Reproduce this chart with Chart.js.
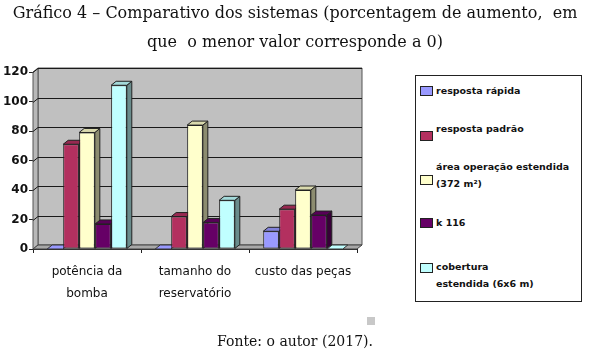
<!DOCTYPE html>
<html><head><meta charset="utf-8">
<script src="https://cdn.jsdelivr.net/npm/chart.js@4.4.0/dist/chart.umd.min.js"></script>
<style>
html,body{margin:0;padding:0;background:#fff;}
#wrap{position:relative;width:590px;height:353px;overflow:hidden;background:#fff;}
#c{position:absolute;left:0;top:0;}
.title{position:absolute;left:0;width:590px;text-align:center;font-family:"DejaVu Serif",serif;font-size:16px;color:#111;white-space:pre;line-height:20px;}
.foot{position:absolute;left:0;width:590px;text-align:center;font-family:"DejaVu Serif",serif;font-size:14px;color:#111;line-height:18px;}
#legend{position:absolute;left:415px;top:75px;width:165px;height:225px;border:1.5px solid #222;background:#fff;}
.li{position:absolute;left:20px;font-family:"DejaVu Sans",sans-serif;font-weight:bold;font-size:9.5px;color:#111;line-height:13px;white-space:pre;}
.sw{position:absolute;left:4px;width:11px;height:8px;border:1px solid #222;}
.sq{position:absolute;left:367px;top:317px;width:8px;height:8px;background:#c8c8c8;}
</style></head>
<body><div id="wrap"><canvas id="c" width="590" height="353"></canvas>
<div class="title" style="top:3px">Gráfico 4 – Comparativo dos sistemas (porcentagem de aumento,  em</div>
<div class="title" style="top:32px">que  o menor valor corresponde a 0)</div>
<div id="legend"></div>
<div class="sq"></div>
<div class="foot" style="top:332px">Fonte: o autor (2017).</div>
</div>
<script>
// ---- data ----
const categories = [['potência da','bomba'], ['tamanho do','reservatório'], ['custo das peças']];
const seriesNames = ['resposta rápida', 'resposta padrão', 'área operação estendida (372 m²)', 'k 116', 'cobertura estendida (6x6 m)'];
const legendLines = [['resposta rápida'], ['resposta padrão'], ['área operação estendida', '(372 m²)'], ['k 116'], ['cobertura', 'estendida (6x6 m)']];
const respostaRapida = [0, 0, 12];
const respostaPadrao = [71, 22, 27];
const areaEstendida = [79, 84, 40];
const k116 = [17, 18, 23];
const coberturaEstendida = [111, 33, 0];
const yTicks = [0, 20, 40, 60, 80, 100, 120];

const colors = ['#9999FF', '#B3305F', '#FFFFCC', '#660066', '#C0FFFF'];
const seriesValues = [respostaRapida, respostaPadrao, areaEstendida, k116, coberturaEstendida];

// ---- legend (HTML) ----
const legendPos = [ {text: 8, sw: 10}, {text: 46, sw: 55}, {text: 84, sw: 99}, {text: 140, sw: 142}, {text: 184, sw: 187} ];
const leg = document.getElementById('legend');
legendLines.forEach((lines, i) => {
  const sw = document.createElement('div');
  sw.className = 'sw'; sw.style.top = legendPos[i].sw + 'px'; sw.style.background = colors[i];
  leg.appendChild(sw);
  lines.forEach((t, k) => {
    const d = document.createElement('div');
    d.className = 'li'; d.textContent = t;
    d.style.top = (legendPos[i].text + k * 17) + 'px';
    leg.appendChild(d);
  });
});

function shade(hex, f) {
  const n = parseInt(hex.slice(1), 16);
  const r = Math.round(((n >> 16) & 255) * f), g = Math.round(((n >> 8) & 255) * f), b = Math.round((n & 255) * f);
  return `rgb(${r},${g},${b})`;
}
const DX = 5, DY = 4;
function poly(ctx, pts, fill, stroke) {
  ctx.beginPath();
  ctx.moveTo(pts[0][0], pts[0][1]);
  for (let i = 1; i < pts.length; i++) ctx.lineTo(pts[i][0], pts[i][1]);
  ctx.closePath();
  if (fill) { ctx.fillStyle = fill; ctx.fill(); }
  if (stroke) { ctx.strokeStyle = stroke; ctx.lineWidth = 1; ctx.stroke(); }
}
const threeD = {
  id: 'threeD',
  beforeDatasetsDraw(chart) {
    const ctx = chart.ctx;
    const {left, right, top, bottom} = chart.chartArea;
    const y = chart.scales.y;
    ctx.save();
    poly(ctx, [[left + DX, top - DY], [right + DX, top - DY], [right + DX, bottom - DY], [left + DX, bottom - DY]], '#C0C0C0', '#555');
    poly(ctx, [[left, top], [left + DX, top - DY], [left + DX, bottom - DY], [left, bottom]], '#B8B8B8', '#555');
    ctx.strokeStyle = '#1a1a1a'; ctx.lineWidth = 1;
    yTicks.forEach(v => {
      if (v === 0) return;
      const py = Math.round(y.getPixelForValue(v)) + 0.5;
      ctx.beginPath();
      ctx.moveTo(left, py); ctx.lineTo(left + DX, py - DY); ctx.lineTo(right + DX, py - DY);
      ctx.stroke();
    });
    poly(ctx, [[left, bottom], [right, bottom], [right + DX, bottom - DY], [left + DX, bottom - DY]], '#A8A8A8', '#444');
    const n = chart.data.labels.length;
    for (let j = 0; j < n; j++) {
      chart.data.datasets.forEach((ds, i) => {
        const bar = chart.getDatasetMeta(i).data[j];
        const p = bar.getProps(['x', 'y', 'base', 'width'], true);
        const L = p.x - p.width / 2, R = p.x + p.width / 2, T = p.y, B = p.base;
        const c = ds.backgroundColor;
        if (B - T > 0.5) {
          poly(ctx, [[R, T], [R + DX, T - DY], [R + DX, B - DY], [R, B]], shade(c, 0.55), '#222');
          poly(ctx, [[L, T], [R, T], [R + DX, T - DY], [L + DX, T - DY]], shade(c, 0.85), '#222');
        } else {
          poly(ctx, [[L, B], [R, B], [R + DX, B - DY], [L + DX, B - DY]], c, '#333');
        }
      });
    }
    ctx.restore();
  }
};

new Chart(document.getElementById('c'), {
  type: 'bar',
  data: {
    labels: categories,
    datasets: seriesValues.map((vals, i) => ({
      label: seriesNames[i],
      data: vals,
      backgroundColor: colors[i],
      borderColor: '#222',
      borderWidth: 1,
      borderSkipped: false,
      categoryPercentage: 0.74,
      barPercentage: 0.98
    }))
  },
  options: {
    responsive: false,
    animation: false,
    devicePixelRatio: 1,
    layout: {padding: {left: 0, top: 72, right: 233, bottom: 0}},
    plugins: {legend: {display: false}, tooltip: {enabled: false}},
    scales: {
      x: {
        grid: {display: true, drawOnChartArea: false, drawTicks: true, tickLength: 4, color: '#222', offset: true},
        border: {display: true, color: '#222'},
        ticks: {font: {family: 'DejaVu Sans', size: 12, lineHeight: 1.8}, color: '#111', padding: 8, maxRotation: 0, autoSkip: false},
        afterFit(s) { s.height = 104; }
      },
      y: {
        min: 0, max: 120,
        afterBuildTicks(s) { s.ticks = yTicks.map(v => ({value: v})); },
        ticks: {font: {family: 'DejaVu Sans', size: 12, weight: 'bold'}, color: '#111', padding: 1},
        grid: {display: true, drawOnChartArea: false, drawTicks: true, tickLength: 4, color: '#222'},
        border: {display: true, color: '#222'},
        afterFit(s) { s.width = 33; }
      }
    }
  },
  plugins: [threeD]
});
</script>
</body></html>
